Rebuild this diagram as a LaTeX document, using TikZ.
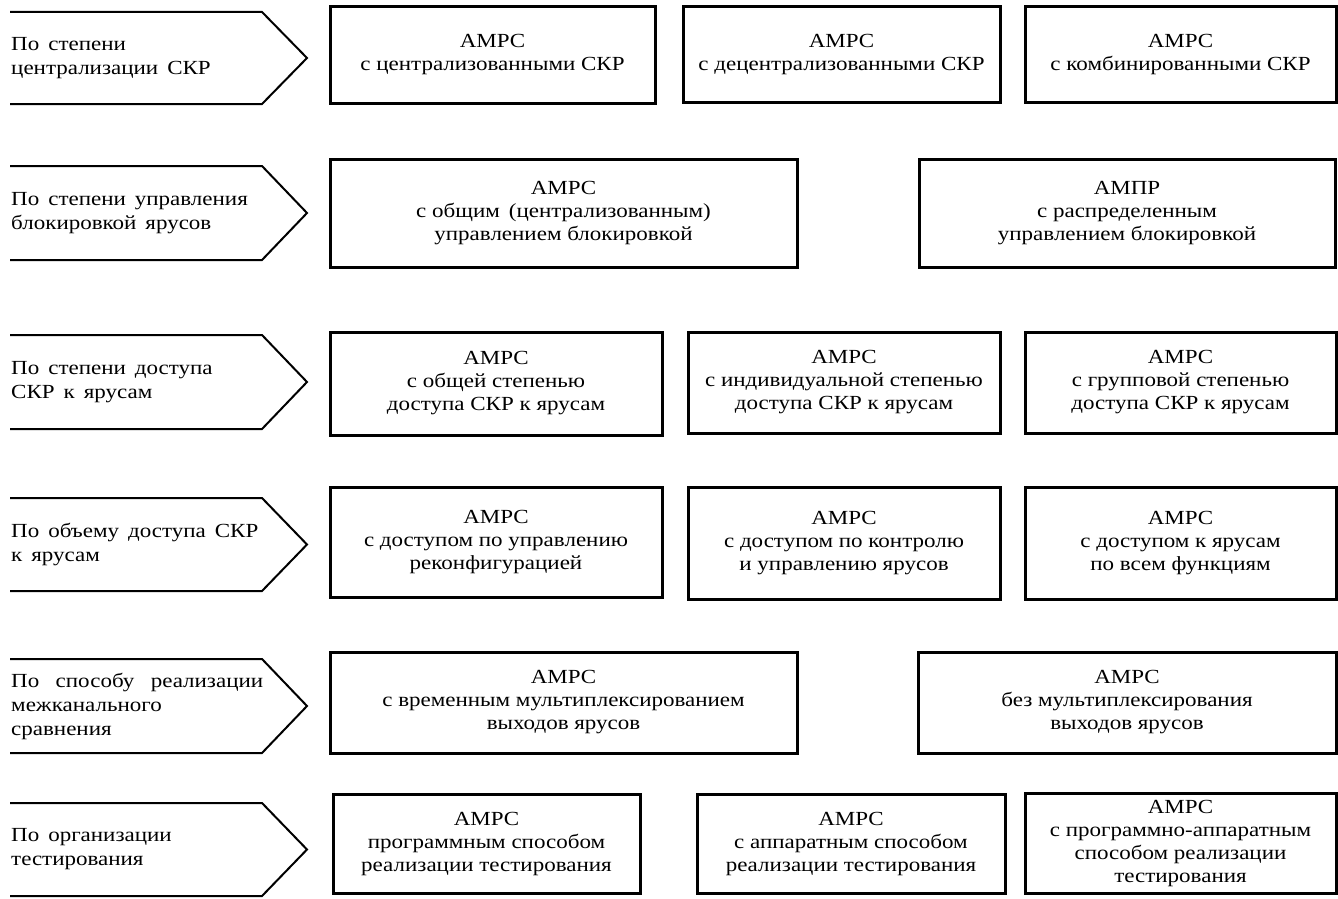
\documentclass[tikz,border=0pt]{standalone}
\usepackage{fontspec}
\setmainfont{Liberation Serif}[FakeStretch=1.15]
\newcommand\bx[6]{\node[abox, minimum width={(#4-#2)*1pt}, minimum height={(#5-#3)*1pt}] (#1) at ({(#2+#4)/2},{(#3+#5)/2}) {#6};}
\newcommand\chev[4]{%
  \draw[chevline] (10,#2) -- (262,#2) -- (307,{(#2+#3)/2}) -- (262,#3) -- (10,#3);
  \node[lbl] (#1) at (11,{(#2+#3)/2}) {#4};}
\newcommand\ws{\hspace{0.45em}}
\begin{document}
\begin{tikzpicture}[x=1pt,y=-1pt,
  abox/.style={draw, line width=3pt, align=center, inner sep=0pt, font=\fontsize{20}{23}\selectfont},
  chevline/.style={line width=2pt},
  lbl/.style={anchor=west, text width=252pt, align=left, inner sep=0pt, font=\fontsize{20}{24}\selectfont}]
\useasboundingbox (0,0) rectangle (1338,899);
% Row 1
\chev{l1}{12}{104}{По\ws степени\\централизации\ws СКР}
\bx{b11}{330}{7}{655}{103}{АМРС\\с централизованными СКР}
\bx{b12}{683}{7}{1000}{102}{АМРС\\с децентрализованными СКР}
\bx{b13}{1025}{7}{1336}{102}{АМРС\\с комбинированными СКР}
% Row 2
\chev{l2}{166}{260}{По\ws степени\ws управления\\блокировкой\ws ярусов}
\bx{b21}{330}{159}{797}{267}{АМРС\\с общим\ws (централизованным)\\управлением блокировкой}
\bx{b22}{919}{159}{1335}{267}{АМПР\\с распределенным\\управлением блокировкой}
% Row 3
\chev{l3}{335}{429}{По\ws степени\ws доступа\\СКР\ws к\ws ярусам}
\bx{b31}{330}{332}{662}{435}{АМРС\\с общей степенью\\доступа СКР к ярусам}
\bx{b32}{688}{332}{1000}{433}{АМРС\\с индивидуальной степенью\\доступа СКР к ярусам}
\bx{b33}{1025}{332}{1336}{433}{АМРС\\с групповой степенью\\доступа СКР к ярусам}
% Row 4
\chev{l4}{498}{591}{По\ws объему\ws доступа\ws СКР\\к\ws ярусам}
\bx{b41}{330}{487}{662}{597}{АМРС\\с доступом по управлению\\реконфигурацией}
\bx{b42}{688}{487}{1000}{599}{АМРС\\с доступом по контролю\\и управлению ярусов}
\bx{b43}{1025}{487}{1336}{599}{АМРС\\с доступом к ярусам\\по всем функциям}
% Row 5
\chev{l5}{659}{753}{По\hfill способу\hfill реализации\\межканального\\сравнения}
\bx{b51}{330}{652}{797}{753}{АМРС\\с временным мультиплексированием\\выходов ярусов}
\bx{b52}{918}{652}{1336}{753}{АМРС\\без мультиплексирования\\выходов ярусов}
% Row 6
\chev{l6}{803}{896}{По\ws организации\\тестирования}
\bx{b61}{333}{794}{640}{893}{АМРС\\программным способом\\реализации тестирования}
\bx{b62}{697}{794}{1005}{893}{АМРС\\с аппаратным способом\\реализации тестирования}
\bx{b63}{1025}{793}{1336}{893}{АМРС\\с программно-аппаратным\\способом реализации\\тестирования}
\end{tikzpicture}
\end{document}
